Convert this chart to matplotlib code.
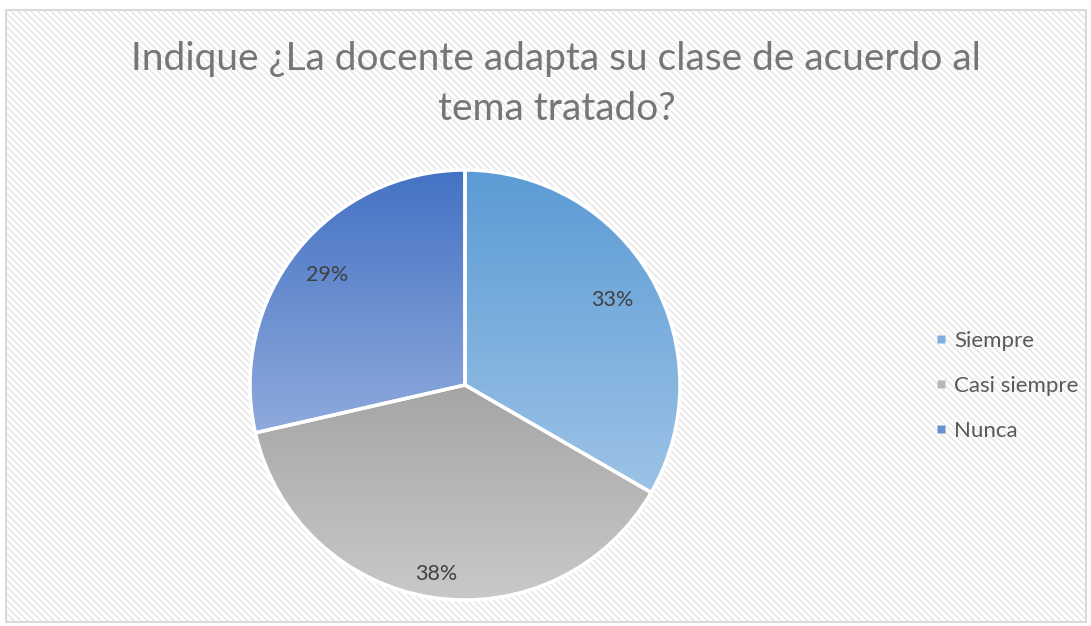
import numpy as np
import matplotlib
matplotlib.use("Agg")
import matplotlib.pyplot as plt
from matplotlib.patches import Rectangle
from matplotlib.lines import Line2D
from matplotlib.colors import LinearSegmentedColormap

plt.rcParams['font.family'] = ['Lato', 'DejaVu Sans']
plt.rcParams['hatch.linewidth'] = 1.1

categories = ['Siempre', 'Casi siempre', 'Nunca']
counts = [7, 8, 6]
top_colors = ['#5B9BD5', '#A5A5A5', '#4472C4']
bottom_colors = ['#9DC3E6', '#C9C9C9', '#8FAADC']
label_dist = [0.79, 0.89, 0.82]
title = 'Indique ¿La docente adapta su clase de acuerdo al\ntema tratado?'

fig = plt.figure(figsize=(10.91, 6.26), dpi=100)
fig.patch.set_facecolor('white')

# hatched chart area with light border
bg = Rectangle((6 / 1091, 4 / 626), 1080 / 1091, 612 / 626, transform=fig.transFigure,
               facecolor='white', edgecolor='#E6E6E6', hatch='\\\\\\\\\\', linewidth=0,
               zorder=-10)
fig.patches.append(bg)
border = Rectangle((6 / 1091, 4 / 626), 1080 / 1091, 612 / 626, transform=fig.transFigure,
                   facecolor='none', edgecolor='#D9D9D9', linewidth=1.5, zorder=-9)
fig.patches.append(border)

fig.text(0.51, 1 - 84 / 626, title, ha='center', va='center', fontsize=28,
         color='#767676', linespacing=1.45)

ax = fig.add_axes([(465 - 215) / 1091, (626 - 385 - 215) / 626, 430 / 1091, 430 / 626])
ax.patch.set_visible(False)
wedges, texts, autotexts = ax.pie(counts, startangle=90, counterclock=False,
                                  autopct='%1.0f%%', pctdistance=0.82,
                                  wedgeprops=dict(edgecolor='white', linewidth=2.5),
                                  textprops=dict(fontsize=15.5, color='#404040'))
ax.set_aspect('equal')
ax.axis('off')

grad = np.linspace(0, 1, 256).reshape(-1, 1)
for w, c0, c1 in zip(wedges, top_colors, bottom_colors):
    ext = w.get_path().get_extents()
    cmap = LinearSegmentedColormap.from_list('g', [c0, c1])
    im = ax.imshow(grad, cmap=cmap, aspect='auto',
                   extent=[ext.x0, ext.x1, ext.y0, ext.y1], origin='upper', zorder=0.5)
    im.set_clip_path(w)
    w.set_facecolor('none')
    w.set_zorder(1)

ax.set_xlim(-1.0, 1.0)
ax.set_ylim(-1.0, 1.0)

for t, d in zip(autotexts, label_dist):
    x, y = t.get_position()
    r = np.hypot(x, y)
    t.set_position((x / r * d, y / r * d))
    t.set_zorder(3)

mid_colors = []
for c0, c1 in zip(top_colors, bottom_colors):
    a = np.array(matplotlib.colors.to_rgb(c0))
    b = np.array(matplotlib.colors.to_rgb(c1))
    mid_colors.append((a + b) / 2)

handles = [Line2D([], [], marker='s', linestyle='none', markersize=6,
                  markerfacecolor=c, markeredgecolor='none') for c in mid_colors]
fig.legend(handles, categories, loc='center left', bbox_to_anchor=(912 / 1091, 1 - 386 / 626),
           frameon=False, fontsize=16, labelcolor='#595959', handletextpad=0.2,
           handlelength=0.8, labelspacing=1.12)

fig.savefig('out.png', dpi=100)
